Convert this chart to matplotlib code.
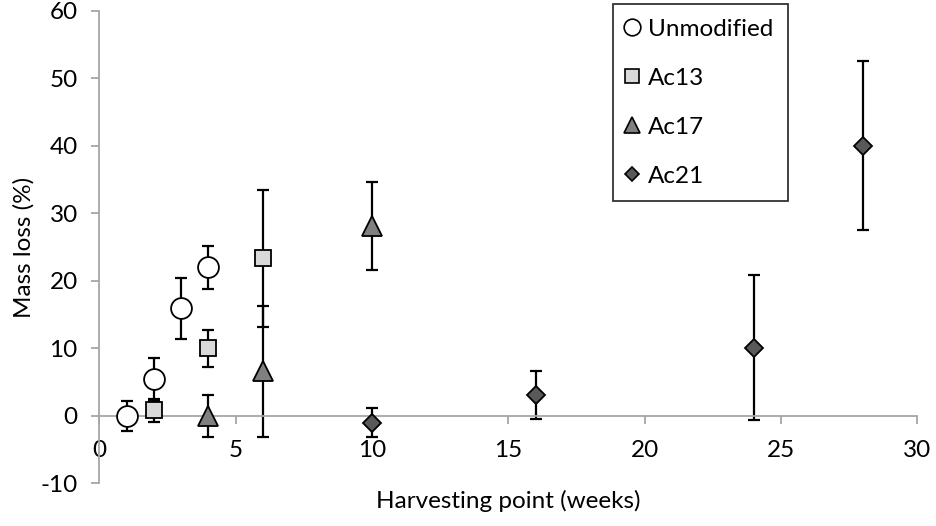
import matplotlib.pyplot as plt

plt.rcParams['font.family'] = ['Lato', 'DejaVu Sans']
plt.rcParams['axes.unicode_minus'] = False

# Harvesting point (weeks), mass loss (%) and error
unmod_x = [1, 2, 3, 4]
unmod_y = [0.0, 5.4, 15.9, 22.0]
unmod_err = [2.2, 3.2, 4.5, 3.2]

ac13_x = [2, 4, 6]
ac13_y = [0.8, 10.0, 23.3]
ac13_err = [1.7, 2.7, 10.1]

ac17_x = [4, 6, 10]
ac17_y = [0.0, 6.6, 28.1]
ac17_err = [3.1, 9.7, 6.5]

ac21_x = [10, 16, 24, 28]
ac21_y = [-1.0, 3.1, 10.1, 40.0]
ac21_err = [2.1, 3.6, 10.7, 12.5]

series = [
    ('Unmodified', unmod_x, unmod_y, unmod_err, 'o', 'white', 15),
    ('Ac13', ac13_x, ac13_y, ac13_err, 's', '#d9d9d9', 12),
    ('Ac17', ac17_x, ac17_y, ac17_err, '^', '#808080', 15),
    ('Ac21', ac21_x, ac21_y, ac21_err, 'D', '#595959', 9),
]

FS = 17.5

fig = plt.figure(figsize=(9.37, 5.26), dpi=100)
ax = fig.add_axes([0.106, 0.081, 0.873, 0.899])

handles = []
for name, x, y, err, mk, col, ms in series:
    ax.errorbar(x, y, yerr=err, fmt='none', ecolor='black', elinewidth=1.6,
                capsize=4.3, capthick=1.6, zorder=2)
    h, = ax.plot(x, y, linestyle='none', marker=mk, markersize=ms,
                 markerfacecolor=col, markeredgecolor='black',
                 markeredgewidth=1.3, zorder=3, label=name)
    handles.append(h)

ax.set_xlim(0, 30)
ax.set_ylim(-10, 60)
ax.set_xticks(range(0, 31, 5))
ax.set_yticks(range(-10, 61, 10))

for s in ['top', 'right']:
    ax.spines[s].set_visible(False)
ax.spines['bottom'].set_position(('data', 0))
for s in ['left', 'bottom']:
    ax.spines[s].set_color('#a6a6a6')
    ax.spines[s].set_linewidth(1.3)
ax.tick_params(axis='both', direction='out', color='#a6a6a6', width=1.3,
               length=5.5, labelsize=FS, labelcolor='black')
ax.tick_params(axis='x', pad=12)
ax.tick_params(axis='y', pad=10)

ax.set_xlabel('Harvesting point (weeks)', fontsize=FS)
ax.set_ylabel('Mass loss (%)', fontsize=FS)
ax.xaxis.label.set_va('center')
ax.yaxis.label.set_va('center')
ax.xaxis.set_label_coords(0.5, -0.037)
ax.yaxis.set_label_coords(-0.092, 0.5)

leg = ax.legend(handles=[
    plt.Line2D([], [], linestyle='none', marker=h.get_marker(),
               markersize=h.get_markersize() * 0.8,
               markerfacecolor=h.get_markerfacecolor(),
               markeredgecolor='black', markeredgewidth=1.2)
    for h in handles],
    labels=[s[0] for s in series],
    loc='upper left', bbox_to_anchor=(0.654, 0.992), bbox_transform=fig.transFigure,
    fontsize=FS, frameon=True, fancybox=False, edgecolor='black',
    labelspacing=1.15, handlelength=0.4, handletextpad=0.45, borderpad=0.6,
    borderaxespad=0)
leg.get_frame().set_linewidth(1.3)

fig.savefig('out.png', dpi=100)
